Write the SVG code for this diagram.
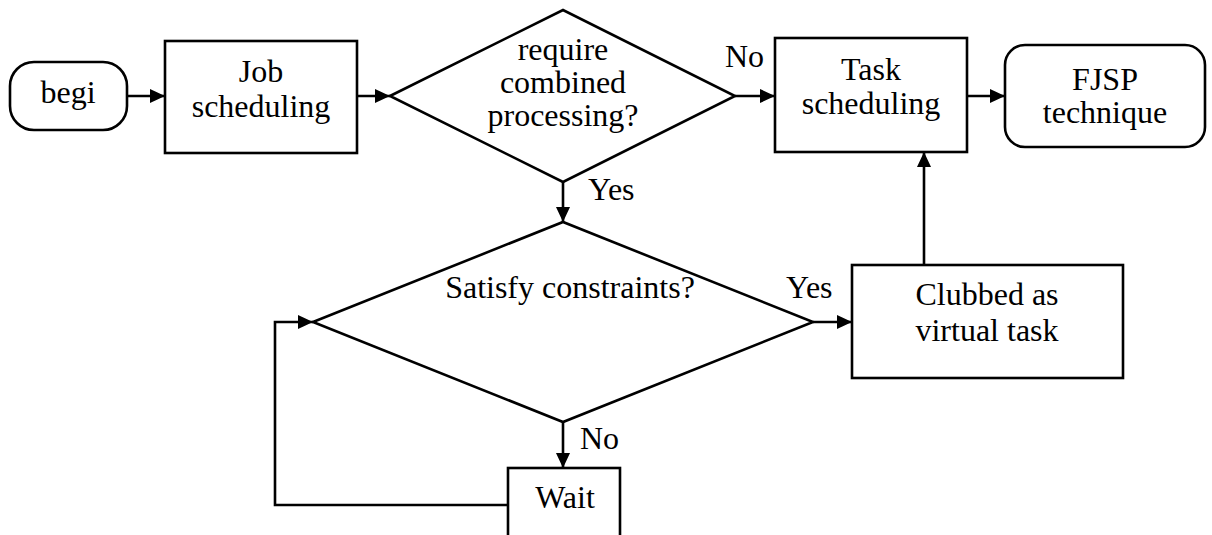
<svg xmlns="http://www.w3.org/2000/svg" width="1212" height="535" viewBox="0 0 1212 535">
  <style>
    .shape { fill: #ffffff; stroke: #000000; stroke-width: 2.6; }
    .conn { fill: none; stroke: #000000; stroke-width: 2.6; }
    .lbl { font-family: 'Liberation Serif', 'Times New Roman', serif; font-size: 32px; fill: #000000; }
    .mid { text-anchor: middle; }
  </style>
  <defs>
    <marker id="arrow" markerUnits="userSpaceOnUse" markerWidth="16" markerHeight="14" refX="15" refY="7" orient="auto">
      <path d="M0,0 L15,7 L0,14 z" fill="#000000"/>
    </marker>
  </defs>

  <rect width="1212" height="535" fill="#ffffff"/>

  <!-- connectors and their labels -->
  <g id="connectors">
    <path class="conn" d="M127,96 H165" marker-end="url(#arrow)"/>
    <path class="conn" d="M357,96 H390" marker-end="url(#arrow)"/>
    <path class="conn" d="M735,96 H775" marker-end="url(#arrow)"/>
    <path class="conn" d="M967,96 H1005" marker-end="url(#arrow)"/>
    <path class="conn" d="M563,182 V222" marker-end="url(#arrow)"/>
    <path class="conn" d="M813,322 H852" marker-end="url(#arrow)"/>
    <path class="conn" d="M924,265 V152" marker-end="url(#arrow)"/>
    <path class="conn" d="M563,422 V468" marker-end="url(#arrow)"/>
    <path class="conn" d="M508,505 H275 V322 H313" marker-end="url(#arrow)"/>
    <text class="lbl" x="725" y="67">No</text>
    <text class="lbl" x="588" y="200">Yes</text>
    <text class="lbl" x="786" y="298">Yes</text>
    <text class="lbl" x="580" y="449">No</text>
  </g>

  <!-- start terminal -->
  <g id="begin">
    <rect class="shape" x="10" y="62" width="117" height="68" rx="24" ry="24"/>
    <text class="lbl mid" x="68" y="103">begi</text>
  </g>

  <g id="job-scheduling">
    <rect class="shape" x="165" y="41" width="192" height="112"/>
    <text class="lbl mid" x="261" y="82">Job</text>
    <text class="lbl mid" x="261" y="117">scheduling</text>
  </g>

  <g id="combined-decision">
    <polygon class="shape" points="390,96 563,10 735,96 563,182"/>
    <text class="lbl mid" x="563" y="60">require</text>
    <text class="lbl mid" x="563" y="93">combined</text>
    <text class="lbl mid" x="563" y="126">processing?</text>
  </g>

  <g id="task-scheduling">
    <rect class="shape" x="775" y="38" width="192" height="114"/>
    <text class="lbl mid" x="871" y="80">Task</text>
    <text class="lbl mid" x="871" y="114">scheduling</text>
  </g>

  <!-- end terminal -->
  <g id="fjsp-technique">
    <rect class="shape" x="1005" y="45" width="200" height="102" rx="20" ry="20"/>
    <text class="lbl mid" x="1105" y="90">FJSP</text>
    <text class="lbl mid" x="1105" y="123">technique</text>
  </g>

  <g id="constraints-decision">
    <polygon class="shape" points="313,322 563,222 813,322 563,422"/>
    <text class="lbl mid" x="570" y="298">Satisfy constraints?</text>
  </g>

  <g id="virtual-task">
    <rect class="shape" x="852" y="265" width="271" height="113"/>
    <text class="lbl mid" x="987" y="305">Clubbed as</text>
    <text class="lbl mid" x="987" y="341">virtual task</text>
  </g>

  <g id="wait">
    <rect class="shape" x="508" y="468" width="112" height="90"/>
    <text class="lbl mid" x="565" y="508">Wait</text>
  </g>
</svg>
